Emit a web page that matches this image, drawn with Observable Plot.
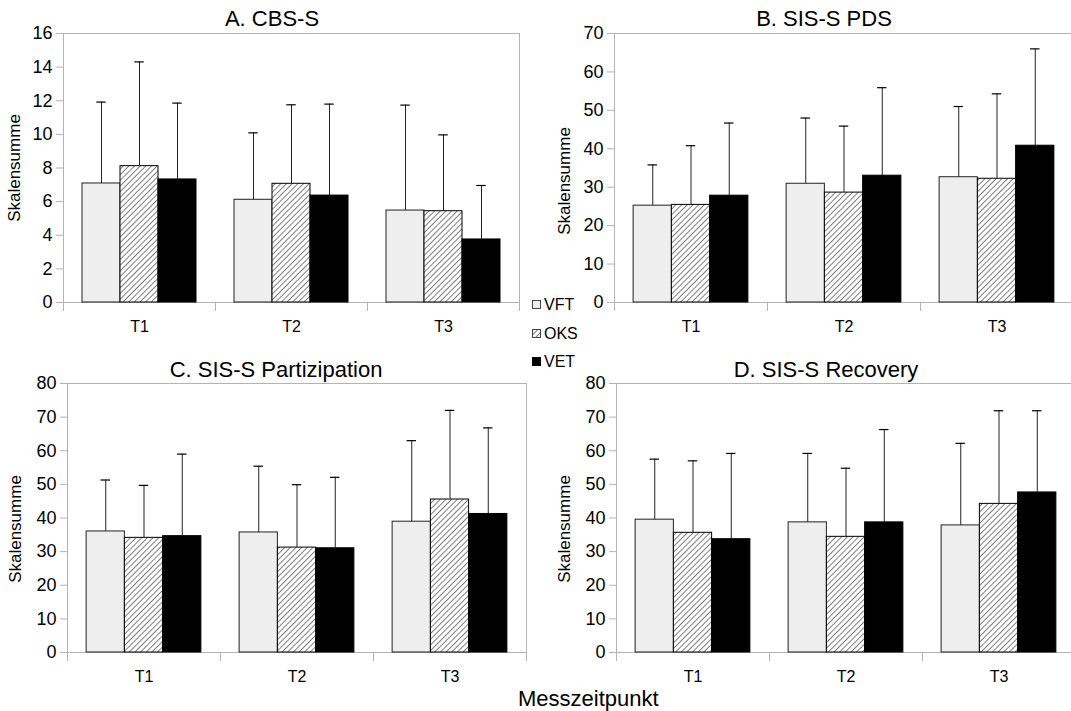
<!DOCTYPE html>
<html>
<head>
<meta charset="utf-8">
<script src="https://cdn.jsdelivr.net/npm/d3@7"></script>
<script src="https://cdn.jsdelivr.net/npm/@observablehq/plot@0.6"></script>
<style>
html, body { margin: 0; padding: 0; background: #fff; overflow: hidden; }
#root { position: relative; width: 1071px; height: 711px; overflow: hidden;
  font-family: "Liberation Sans", Arial, sans-serif; color: #000; }
.abs { position: absolute; white-space: nowrap; }
.title { font-size: 22px; line-height: 22px; transform: translateX(-50%); }
.ylab { font-size: 17px; line-height: 17px; transform: translate(-50%, -50%) rotate(-90deg); }
.leg { font-size: 16px; line-height: 16px; display: flex; align-items: center; }
.leg svg { margin-right: 2px; }
.panel { position: absolute; }
.panel svg { max-width: none !important; }
</style>
</head>
<body>
<svg width="0" height="0" style="position:absolute">
  <defs>
    <pattern id="hatch" patternUnits="userSpaceOnUse" width="4" height="4" patternTransform="rotate(45)">
      <rect width="4" height="4" fill="#fff"></rect>
      <line x1="0" y1="0" x2="0" y2="4" stroke="#000" stroke-width="1"></line>
    </pattern>
  </defs>
</svg>
<div id="root"></div>
<script>
// ---------- data ----------
const times = ["T1", "T2", "T3"];
const groups = ["VFT", "OKS", "VET"];
const titles = ["A. CBS-S", "B. SIS-S PDS", "C. SIS-S Partizipation", "D. SIS-S Recovery"];
const yLabel = "Skalensumme";
const xLabel = "Messzeitpunkt";

const ticksA = [0, 2, 4, 6, 8, 10, 12, 14, 16];
const ticksB = [0, 10, 20, 30, 40, 50, 60, 70];
const ticksC = [0, 10, 20, 30, 40, 50, 60, 70, 80];
const ticksD = [0, 10, 20, 30, 40, 50, 60, 70, 80];

// rows: VFT, OKS, VET ; columns: T1, T2, T3
const meansA = [[7.08, 6.11, 5.47], [8.11, 7.06, 5.43], [7.32, 6.36, 3.75]];
const topsA  = [[11.92, 10.09, 11.74], [14.31, 11.76, 9.97], [11.86, 11.80, 6.96]];

const meansB = [[25.2, 30.9, 32.6], [25.4, 28.6, 32.2], [27.8, 33.0, 40.8]];
const topsB  = [[35.8, 48.0, 51.0], [40.8, 45.9, 54.3], [46.7, 55.9, 66.0]];

const meansC = [[36.0, 35.7, 38.9], [34.1, 31.2, 45.5], [34.6, 31.0, 41.2]];
const topsC  = [[51.3, 55.4, 63.0], [49.7, 49.9, 72.0], [59.0, 52.1, 66.8]];

const meansD = [[39.5, 38.7, 37.8], [35.6, 34.4, 44.2], [33.7, 38.7, 47.6]];
const topsD  = [[57.5, 59.2, 62.2], [57.0, 54.8, 71.9], [59.2, 66.3, 71.9]];

// ---------- styles ----------
const groupFill = ["#eeeeee", "url(#hatch)", "#000000"];
const groupStroke = ["#222222", "#000000", "#000000"];
const frameColor = "#b3b3b3";

function rows(means, tops) {
  const out = [];
  groups.forEach((g, gi) => times.forEach((t, ti) => {
    const x1 = ti + 0.125 + gi * 0.25;
    out.push({group: g, time: t, x1, x2: x1 + 0.25, xc: x1 + 0.125,
              mean: means[gi][ti], top: tops[gi][ti]});
  }));
  return out;
}

const root = document.getElementById("root");

const panels = [
  {title: titles[0], means: meansA, tops: topsA, ticks: ticksA, yMax: 16,
   left: 0, top: 0, w: 535, h: 345, ml: 63, mr: 16, mt: 33, mb: 43,
   titleX: 272, titleTop: 8, labX: 14, labY: 168},
  {title: titles[1], means: meansB, tops: topsB, ticks: ticksB, yMax: 70,
   left: 535, top: 0, w: 545, h: 345, ml: 79, mr: 7, mt: 33, mb: 43,
   titleX: 824, titleTop: 8, labX: 564, labY: 181},
  {title: titles[2], means: meansC, tops: topsC, ticks: ticksC, yMax: 80,
   left: 0, top: 345, w: 535, h: 345, ml: 67, mr: 9, mt: 38, mb: 38,
   titleX: 276, titleTop: 359, labX: 15, labY: 529},
  {title: titles[3], means: meansD, tops: topsD, ticks: ticksD, yMax: 80,
   left: 535, top: 345, w: 545, h: 345, ml: 81, mr: 5, mt: 38, mb: 38,
   titleX: 826, titleTop: 359, labX: 564, labY: 529}
];

panels.forEach(cfg => {
  const data = rows(cfg.means, cfg.tops);
  const svg = Plot.plot({
    width: cfg.w, height: cfg.h,
    marginLeft: cfg.ml, marginRight: cfg.mr, marginTop: cfg.mt, marginBottom: cfg.mb,
    x: {domain: [0, 3], label: null},
    y: {domain: [0, cfg.yMax], label: null},
    style: {fontFamily: '"Liberation Sans", Arial, sans-serif', fontSize: "18px",
            background: "transparent", color: "#000", overflow: "visible", maxWidth: "none"},
    marks: [
      Plot.frame({stroke: frameColor}),
      Plot.axisY(cfg.ticks, {tickSize: 7, tickPadding: 4, stroke: frameColor, fill: "#000",
                             fontSize: 18, label: null}),
      Plot.axisX([0, 1, 2, 3], {tickSize: 9, stroke: frameColor, tickFormat: () => "", label: null}),
      Plot.axisX([0.5, 1.5, 2.5], {tickSize: 0, tickPadding: 18, fill: "#000", fontSize: 16,
                                   tickFormat: v => times[Math.floor(v)], label: null}),
      ...groups.map((g, gi) => Plot.rect(data.filter(d => d.group === g), {
        x1: "x1", x2: "x2", y1: 0, y2: "mean",
        fill: groupFill[gi], stroke: groupStroke[gi], strokeWidth: 1
      })),
      Plot.ruleX(data, {x: "xc", y1: "mean", y2: "top", stroke: "#222", strokeWidth: 1}),
      Plot.ruleY(data, {y: "top", x1: d => d.xc - 0.031, x2: d => d.xc + 0.031,
                        stroke: "#000", strokeWidth: 1.2})
    ]
  });
  svg.style.maxWidth = "none";
  const holder = document.createElement("div");
  holder.className = "panel";
  holder.style.left = cfg.left + "px";
  holder.style.top = cfg.top + "px";
  holder.style.width = cfg.w + "px";
  holder.style.height = cfg.h + "px";
  holder.appendChild(svg);
  root.appendChild(holder);

  const t = document.createElement("div");
  t.className = "abs title";
  t.style.left = cfg.titleX + "px";
  t.style.top = cfg.titleTop + "px";
  t.textContent = cfg.title;
  root.appendChild(t);

  const yl = document.createElement("div");
  yl.className = "abs ylab";
  yl.style.left = cfg.labX + "px";
  yl.style.top = cfg.labY + "px";
  yl.textContent = yLabel;
  root.appendChild(yl);
});

// legend
const legTops = [297, 326, 354];
const legStroke = ["#444", "#444", "#000"];
groups.forEach((g, gi) => {
  const item = document.createElement("div");
  item.className = "abs leg";
  item.style.left = "532px";
  item.style.top = legTops[gi] + "px";
  item.innerHTML = `<svg width="10" height="10"><rect x="0.5" y="0.5" width="8" height="8" fill="${groupFill[gi]}" stroke="${legStroke[gi]}" stroke-width="1"></rect></svg><span>${g}</span>`;
  root.appendChild(item);
});

// x axis title
const xl = document.createElement("div");
xl.className = "abs";
xl.style.left = "518px";
xl.style.top = "688px";
xl.style.fontSize = "22px";
xl.style.lineHeight = "22px";
xl.textContent = xLabel;
root.appendChild(xl);
</script>
</body>
</html>
